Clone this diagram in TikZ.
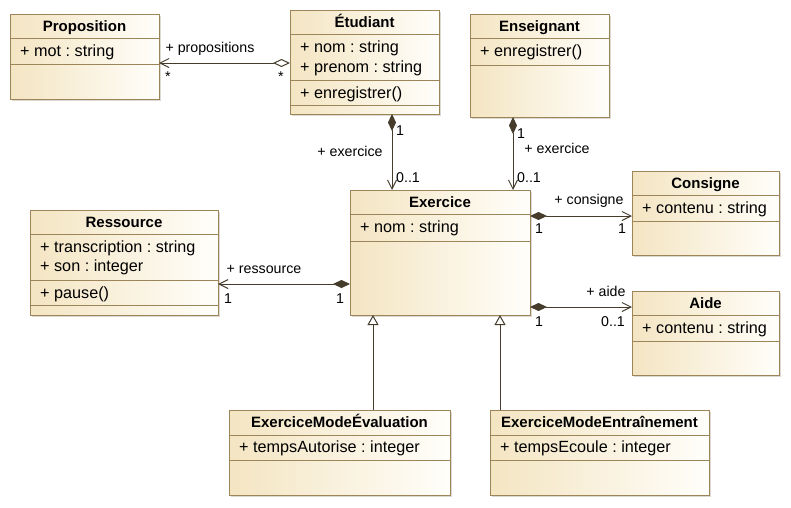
\documentclass[tikz,border=0pt]{standalone}
\usepackage{fontspec}
\setmainfont{Liberation Sans}
\usetikzlibrary{arrows.meta}
\definecolor{boxl}{HTML}{F4E5C2}
\definecolor{boxr}{HTML}{FFFEFA}
\definecolor{bord}{HTML}{9C8659}
\definecolor{linec}{HTML}{463C2C}
\definecolor{shad}{HTML}{DCD9D2}
\frenchspacing
\begin{document}
\begin{tikzpicture}[x=1pt,y=-1pt,
  classbox/.style={draw=bord, line width=1pt, left color=boxl, right color=boxr,
    inner sep=0pt, outer sep=0pt, anchor=north west},
  sepline/.style={draw=bord, line width=1pt},
  ctitle/.style={font=\fontsize{15}{16}\selectfont\bfseries, inner sep=0pt,
    text height=10.7pt, text depth=0pt},
  member/.style={font=\fontsize{16.2}{18}\selectfont, inner sep=0pt, anchor=west,
    text height=11.6pt, text depth=0pt},
  lbl/.style={font=\fontsize{14.2}{16}\selectfont, inner sep=0pt,
    text height=10.2pt, text depth=0pt},
  conn/.style={draw=linec, line width=1pt},
  compo/.style={{Diamond[length=17pt,width=8pt,fill=linec]}-{Straight Barb[length=9pt,width=9pt]}},
  aggro/.style={{Diamond[length=17pt,width=8pt,open,fill=white]}-{Straight Barb[length=9pt,width=9pt]}},
  gener/.style={-{Triangle[length=10pt,width=11pt,open,fill=white]}},
]
\fill[white] (0,0) rectangle (791,507);
\useasboundingbox (0,0) rectangle (791,507);

% shadows
\fill[shad] (12,16) rectangle (161,101);
\fill[shad] (292,12) rectangle (441,116);
\fill[shad] (472,16) rectangle (611,119);
\fill[shad] (352,192) rectangle (532,317);
\fill[shad] (634,173) rectangle (781,257);
\fill[shad] (634,293) rectangle (781,377);
\fill[shad] (32,212) rectangle (220,317);
\fill[shad] (231,412) rectangle (452,497);
\fill[shad] (492,412) rectangle (711,497);

% class boxes
\node[classbox, minimum width=149pt, minimum height=85pt] (prop) at (10,14) {};
\node[classbox, minimum width=149pt, minimum height=104pt] (etu) at (290,10) {};
\node[classbox, minimum width=139pt, minimum height=103pt] (ens) at (470,14) {};
\node[classbox, minimum width=180pt, minimum height=125pt] (exo) at (350,190) {};
\node[classbox, minimum width=147pt, minimum height=84pt] (cons) at (632,171) {};
\node[classbox, minimum width=147pt, minimum height=84pt] (aide) at (632,291) {};
\node[classbox, minimum width=188pt, minimum height=105pt] (res) at (30,210) {};
\node[classbox, minimum width=221pt, minimum height=85pt] (eval) at (229,410) {};
\node[classbox, minimum width=219pt, minimum height=85pt] (entr) at (490,410) {};

% separators
\foreach \n/\a/\b in {prop/24/50, ens/24/51, exo/24/51, cons/24/50, aide/24/50, eval/25/50, entr/25/50}{
  \draw[sepline] ([yshift=-\a pt]\n.north west) -- ([yshift=-\a pt]\n.north east);
  \draw[sepline] ([yshift=-\b pt]\n.north west) -- ([yshift=-\b pt]\n.north east);
}
\foreach \n in {etu, res}{
  \draw[sepline] ([yshift=-24pt]\n.north west) -- ([yshift=-24pt]\n.north east);
  \draw[sepline] ([yshift=-70pt]\n.north west) -- ([yshift=-70pt]\n.north east);
  \draw[sepline] ([yshift=-95pt]\n.north west) -- ([yshift=-95pt]\n.north east);
}

% titles
\node[ctitle] (tprop) at ([yshift=-12pt]prop.north) {Proposition};
\node[ctitle] (tetu) at ([yshift=-12pt]etu.north) {Étudiant};
\node[ctitle] (tens) at ([yshift=-12pt]ens.north) {Enseignant};
\node[ctitle] (texo) at ([yshift=-12pt]exo.north) {Exercice};
\node[ctitle] (tcons) at ([yshift=-12pt]cons.north) {Consigne};
\node[ctitle] (taide) at ([yshift=-12pt]aide.north) {Aide};
\node[ctitle] (tres) at ([yshift=-12pt]res.north) {Ressource};
\node[ctitle] (teval) at ([yshift=-12pt]eval.north) {ExerciceModeÉvaluation};
\node[ctitle] (tentr) at ([yshift=-12pt]entr.north) {ExerciceModeEntraînement};

% members
\node[member] (mprop) at ([xshift=10pt,yshift=-37pt]prop.north west) {+ mot : string};
\node[member] (metu1) at ([xshift=10pt,yshift=-37pt]etu.north west) {+ nom : string};
\node[member] (metu2) at ([xshift=10pt,yshift=-57pt]etu.north west) {+ prenom : string};
\node[member] (metu3) at ([xshift=10pt,yshift=-83pt]etu.north west) {+ enregistrer()};
\node[member] (mens) at ([xshift=10pt,yshift=-37pt]ens.north west) {+ enregistrer()};
\node[member] (mexo) at ([xshift=10pt,yshift=-37pt]exo.north west) {+ nom : string};
\node[member] (mcons) at ([xshift=10pt,yshift=-37pt]cons.north west) {+ contenu : string};
\node[member] (maide) at ([xshift=10pt,yshift=-37pt]aide.north west) {+ contenu : string};
\node[member] (mres1) at ([xshift=10pt,yshift=-37pt]res.north west) {+ transcription : string};
\node[member] (mres2) at ([xshift=10pt,yshift=-56pt]res.north west) {+ son : integer};
\node[member] (mres3) at ([xshift=10pt,yshift=-83pt]res.north west) {+ pause()};
\node[member] (meval) at ([xshift=10pt,yshift=-37pt]eval.north west) {+ tempsAutorise : integer};
\node[member] (mentr) at ([xshift=10pt,yshift=-37pt]entr.north west) {+ tempsEcoule : integer};

% helper coordinates for connector lines
\coordinate (h1) at (0,63);
\coordinate (h2) at (0,216);
\coordinate (h3) at (0,307);
\coordinate (h4) at (0,284);
\coordinate (v1) at (392,0);
\coordinate (v2) at (513,0);
\coordinate (v3) at (373,0);
\coordinate (v4) at (500,0);

% connectors
\draw[conn, aggro] (etu.west |- h1) -- (prop.east |- h1);
\draw[conn, compo] (etu.south -| v1) -- (exo.north -| v1);
\draw[conn, compo] (ens.south -| v2) -- (exo.north -| v2);
\draw[conn, compo] (exo.east |- h2) -- (cons.west |- h2);
\draw[conn, compo] (exo.east |- h3) -- (aide.west |- h3);
\draw[conn, compo] (exo.west |- h4) -- (res.east |- h4);
\draw[conn, gener] (eval.north -| v3) -- (exo.south -| v3);
\draw[conn, gener] (entr.north -| v4) -- (exo.south -| v4);

% labels
\node[lbl] (l1) at (210,47) {+ propositions};
\node[lbl] (l2) at (168,76) {*};
\node[lbl] (l3) at (281,76) {*};
\node[lbl] (l4) at (350,151) {+ exercice};
\node[lbl] (l5) at (400,130) {1};
\node[lbl] (l6) at (408,177) {0..1};
\node[lbl] (l7) at (521,133) {1};
\node[lbl] (l8) at (557,148) {+ exercice};
\node[lbl] (l9) at (529,177) {0..1};
\node[lbl] (l10) at (589,199) {+ consigne};
\node[lbl] (l11) at (539,228) {1};
\node[lbl] (l12) at (622,228) {1};
\node[lbl] (l13) at (606,291) {+ aide};
\node[lbl] (l14) at (539,321) {1};
\node[lbl] (l15) at (613,321) {0..1};
\node[lbl] (l16) at (264,268) {+ ressource};
\node[lbl] (l17) at (228,298) {1};
\node[lbl] (l18) at (340,298) {1};
\end{tikzpicture}
\end{document}
